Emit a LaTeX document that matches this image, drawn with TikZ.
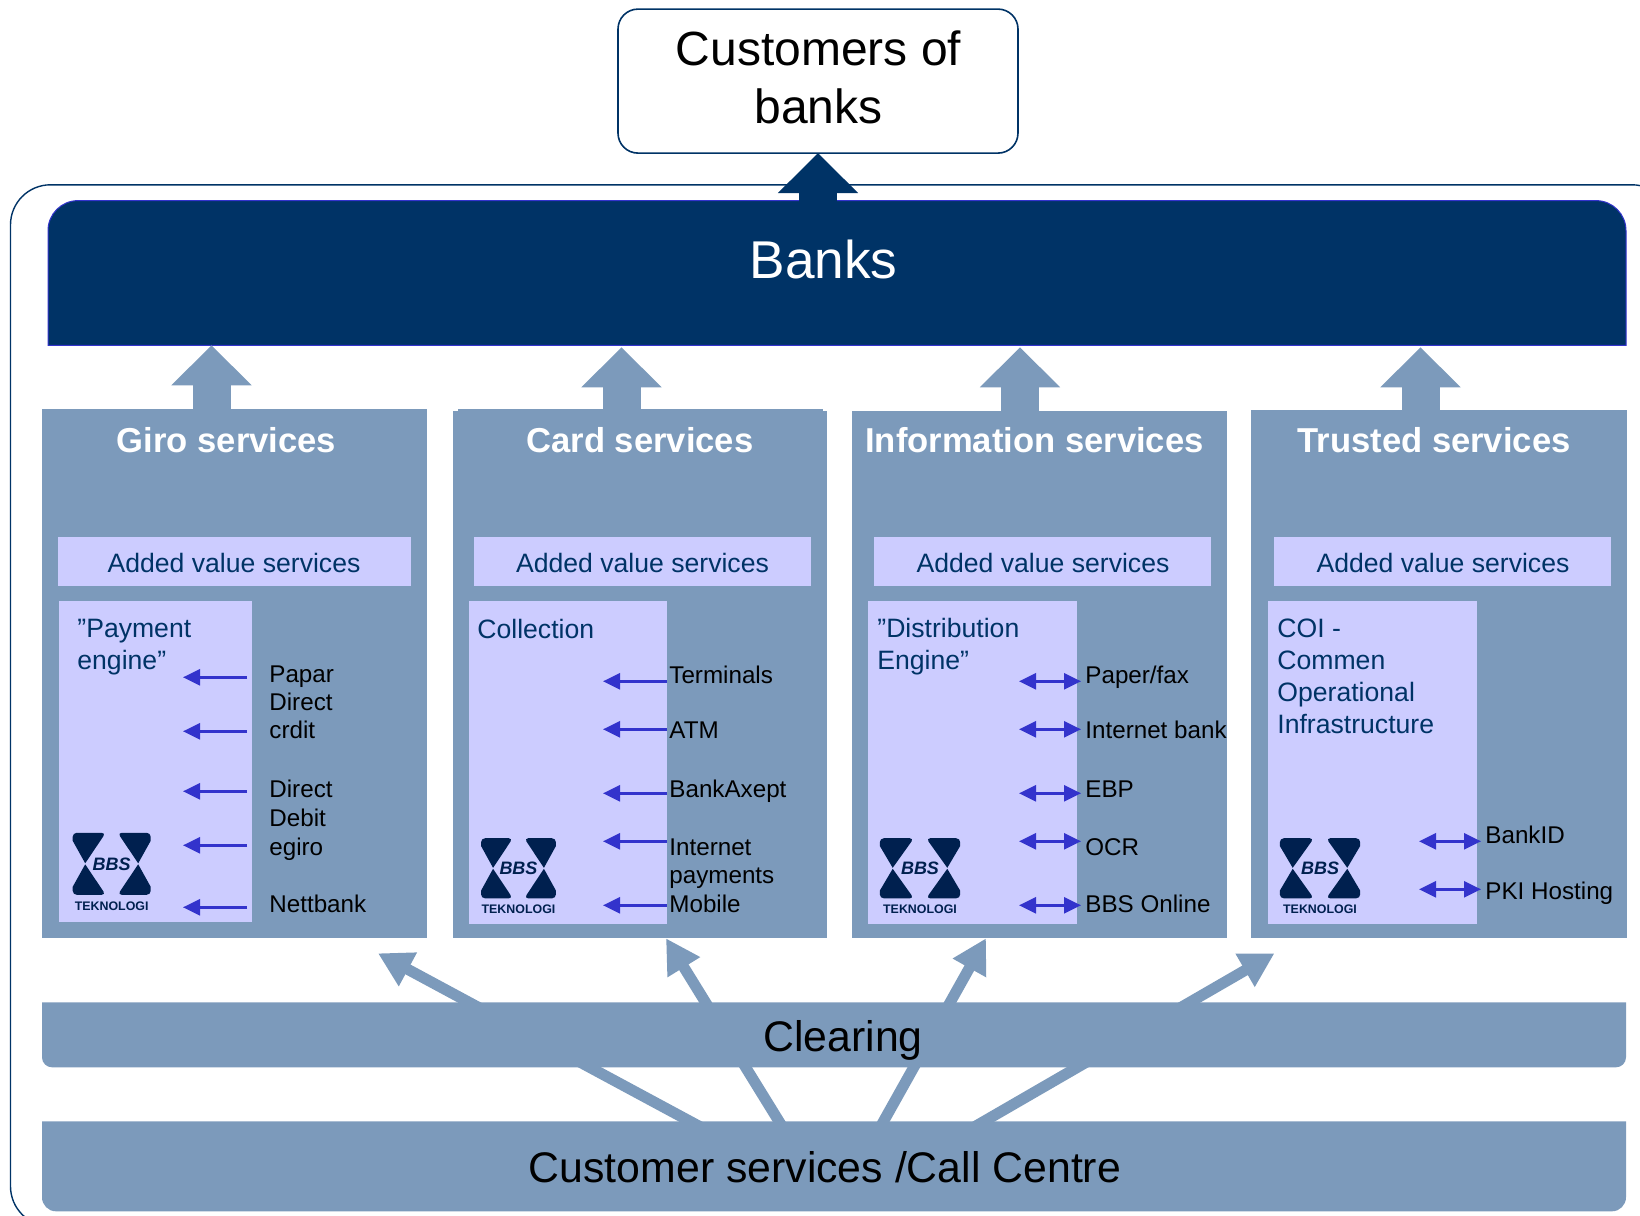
\documentclass[tikz,border=0pt]{standalone}
\usepackage{fontspec}
\setmainfont{Liberation Sans}
\usetikzlibrary{arrows.meta,calc}
\definecolor{navy}{HTML}{003366}
\definecolor{logonavy}{HTML}{00204F}
\definecolor{steel}{HTML}{7C9ABB}
\definecolor{lav}{HTML}{CCCCFF}
\definecolor{arrowblue}{HTML}{3333CC}
\pgfdeclarelayer{back}
\pgfsetlayers{back,main}
\newcommand{\fs}[2]{\fontsize{#1}{#2}\selectfont}
\newcommand{\rectnode}[6]{%
  \pgfmathsetmacro\rw{(#4-#2)*0.5}\pgfmathsetmacro\rh{(#5-#3)*0.5}%
  \node[#6,anchor=north west,inner sep=0pt,outer sep=0pt,minimum width=\rw pt,minimum height=\rh pt] (#1) at (#2,#3) {};}
\tikzset{
  panelbox/.style={fill=steel},
  lavbox/.style={fill=lav},
  plainbox/.style={},
  paneltitle/.style={anchor=base,inner sep=0pt,text=white,font=\fs{17.3}{20}\bfseries},
  addedlabel/.style={anchor=base,inner sep=0pt,text=navy,font=\fs{13.3}{16}},
  innertitle/.style={anchor=base west,inner sep=0pt,text=navy,align=left,font=\fs{13.3}{16}},
  itemlabel/.style={anchor=base west,inner sep=0pt,text=black,align=left,font=\fs{12.1}{14}},
  inarrow/.style={draw=arrowblue,line width=1.2pt,-{Triangle[length=8.5pt,width=8pt]}},
  bothways/.style={draw=arrowblue,line width=1.2pt,{Triangle[length=8.5pt,width=8pt]}-{Triangle[length=8.5pt,width=8pt]}},
  blockarrow/.style={draw=steel,line width=19pt,-{Triangle[length=20pt,width=39pt]}},
  topblock/.style={draw=navy,line width=19pt,-{Triangle[length=20pt,width=39pt]}},
  diagarrow/.style={draw=steel,line width=5.5pt,-{Triangle[length=17pt,width=18pt]}},
  bbslogo/.pic={
    \fill[logonavy] (-26.5,-0.5) -- (-39,-23) [rounded corners=2pt] -- (-39,-31) -- (-6,-31) [sharp corners] -- cycle;
    \fill[logonavy] (26.5,-0.5) -- (39,-23) [rounded corners=2pt] -- (39,-31) -- (6,-31) [sharp corners] -- cycle;
    \fill[logonavy] (-26.5,0.5) -- (-39,23) [rounded corners=2pt] -- (-39,31) -- (-6,31) [sharp corners] -- cycle;
    \fill[logonavy] (26.5,0.5) -- (39,23) [rounded corners=2pt] -- (39,31) -- (6,31) [sharp corners] -- cycle;
    \node[inner sep=0pt,text=logonavy,font=\fs{9}{10}\bfseries\itshape] (-bbs) at (0,0) {BBS};
    \node[inner sep=0pt,text=logonavy,font=\fs{6.2}{7}\bfseries] (-tek) at (0,42) {TEKNOLOGI};
  }
}
\begin{document}
\begin{tikzpicture}[x=0.5pt,y=-0.5pt]
\clip (0,0) rectangle (1640,1216);
\begin{scope}[yshift=-0.15pt]
% outer frame
\begin{pgfonlayer}{back}
  \draw[navy,line width=0.7pt,rounded corners=20pt] (10.5,184.5) rectangle (1672,1226);
\end{pgfonlayer}
% customers
\node[draw=navy,line width=0.8pt,rounded corners=10pt,fill=white,anchor=north west,inner sep=0pt,outer sep=0pt,minimum width=200pt,minimum height=72pt] (cust) at (618,8.8) {};
\node[anchor=base,inner sep=0pt,align=center,font=\fs{24}{29}] (custlabel) at (818.5,122.8) {Customers of\\banks};
% banks
\rectnode{banks}{48}{200.3}{1626}{345}{plainbox}
\begin{pgfonlayer}{back}
  \filldraw[fill=navy,draw=arrowblue,line width=0.5pt] (banks.south west) [rounded corners=15pt] -- (banks.north west) -- (banks.north east) [sharp corners] -- (banks.south east) -- cycle;
\end{pgfonlayer}
\node[anchor=base,inner sep=0pt,text=white,font=\fs{26.6}{30}] (bankslabel) at (823.5,278) {Banks};
% panels
\rectnode{p1}{42}{409}{427}{938}{panelbox}
\rectnode{p2}{453}{411}{827}{938}{panelbox}
\rectnode{p2top}{458}{409}{823}{412}{panelbox}
\rectnode{p3}{852}{411}{1227}{938}{panelbox}
\rectnode{p4}{1251}{410}{1627}{938}{panelbox}
\node[paneltitle] (t1) at (226.5,452.5) {Giro services};
\node[paneltitle] (t2) at (640,452.5) {Card services};
\node[paneltitle] (t3) at (1034.5,452.5) {Information services};
\node[paneltitle] (t4) at (1434,452.5) {Trusted services};
% added value
\rectnode{av1}{58}{537}{411}{586}{lavbox}
\rectnode{av2}{474}{537}{811}{586}{lavbox}
\rectnode{av3}{874}{537}{1211}{586}{lavbox}
\rectnode{av4}{1274}{537}{1611}{586}{lavbox}
\node[addedlabel] (avl1) at (234,572) {Added value services};
\node[addedlabel] (avl2) at (642.5,572) {Added value services};
\node[addedlabel] (avl3) at (1043,572) {Added value services};
\node[addedlabel] (avl4) at (1443,572) {Added value services};
% inner boxes
\rectnode{in1}{59}{601}{252}{922}{lavbox}
\rectnode{in2}{469}{601}{667}{924}{lavbox}
\rectnode{in3}{868}{601}{1077}{924}{lavbox}
\rectnode{in4}{1268}{601}{1477}{924}{lavbox}
\node[innertitle] (it1) at (77,669.5) {”Payment\\engine”};
\node[innertitle] (it2) at (477,638) {Collection};
\node[innertitle] (it3) at (877,669.5) {”Distribution\\Engine”};
\node[innertitle] (it4) at (1277,733) {COI -\\Commen\\Operational\\Infrastructure};
% logos
\pic[xscale=1] (logoa) at (111.7,863.5) {bbslogo};
\pic[xscale=0.96,yscale=0.97] (logob) at (518.5,868) {bbslogo};
\pic[xscale=1.03,yscale=0.97] (logoc) at (920,868) {bbslogo};
\pic[xscale=1.03,yscale=0.97] (logod) at (1320,868) {bbslogo};
% item labels panel 1
\node[itemlabel] (a1) at (269,738.5) {Papar\\Direct\\crdit};
\node[itemlabel,font=\fs{12.1}{14.4}] (a2) at (269,855) {Direct\\Debit\\egiro};
\node[itemlabel] (a3) at (269,912.5) {Nettbank};
% panel 2
\node[itemlabel] (b1) at (669,683) {Terminals};
\node[itemlabel] (b2) at (669,738.5) {ATM};
\node[itemlabel] (b3) at (669,797) {BankAxept};
\node[itemlabel] (b4) at (669,883.5) {Internet\\payments};
\node[itemlabel] (b5) at (669,912.5) {Mobile};
% panel 3
\node[itemlabel] (c1) at (1085,683) {Paper/fax};
\node[itemlabel] (c2) at (1085,738.5) {Internet bank};
\node[itemlabel] (c3) at (1085,797) {EBP};
\node[itemlabel] (c4) at (1085,855) {OCR};
\node[itemlabel] (c5) at (1085,912.5) {BBS Online};
% panel 4
\node[itemlabel] (d1) at (1485,843) {BankID};
\node[itemlabel] (d2) at (1485,899.5) {PKI Hosting};
% small arrows: panel 1
\foreach \n/\y in {1/677,2/731,3/791,4/845,5/907}{
  \coordinate (as\n) at (247,\y); \coordinate (ae\n) at (183,\y);
  \draw[inarrow] (as\n) -- (ae\n);
}
\foreach \n/\y in {1/681,2/729,3/793,4/841,5/905}{
  \coordinate (bs\n) at (667,\y); \coordinate (be\n) at (603,\y);
  \draw[inarrow] (bs\n) -- (be\n);
  \coordinate (cs\n) at (1019,\y); \coordinate (ce\n) at (1081,\y);
  \draw[bothways] (cs\n) -- (ce\n);
}
\foreach \n/\y in {1/841,2/889}{
  \coordinate (ds\n) at (1419,\y); \coordinate (de\n) at (1481,\y);
  \draw[bothways] (ds\n) -- (de\n);
}
% block arrows
\coordinate (up1) at (211.5,345);
\coordinate (up2) at (621.5,347);
\coordinate (up3) at (1020,347);
\coordinate (up4) at (1420.5,347);
\draw[blockarrow] (p1.north -| up1) -- (up1);
\draw[blockarrow] (p2top.north -| up2) -- (up2);
\draw[blockarrow] (p3.north -| up3) -- (up3);
\draw[blockarrow] (p4.north -| up4) -- (up4);
\draw[topblock] (banks.north -| cust.south) ++(0,2) -- (cust.south);
% clearing and call centre
\rectnode{clear}{42}{1002}{1626}{1067}{plainbox}
\rectnode{cc}{42}{1121}{1626}{1211}{plainbox}
\coordinate (u1) at (378,953);
\coordinate (u2) at (666,938);
\coordinate (u3) at (986,938);
\coordinate (u4) at (1274.5,953);
\coordinate (s1) at (706.7,1130);
\coordinate (s2) at (784.5,1130);
\coordinate (s3) at (878.5,1130);
\coordinate (s4) at (968.5,1130);
\begin{pgfonlayer}{back}
  \draw[diagarrow] (s1) -- (u1);
  \draw[diagarrow] (s2) -- (u2);
  \draw[diagarrow] (s3) -- (u3);
  \draw[diagarrow] (s4) -- (u4);
\end{pgfonlayer}
\fill[steel] (clear.north west) [rounded corners=5pt] -- (clear.south west) -- (clear.south east) [sharp corners] -- (clear.north east) -- cycle;
\fill[steel] (cc.north west) [rounded corners=7pt] -- (cc.south west) -- (cc.south east) [sharp corners] -- (cc.north east) -- cycle;
\node[anchor=base,inner sep=0pt,font=\fs{21.4}{24}] (clearlabel) at (843,1051) {Clearing};
\node[anchor=base,inner sep=0pt,font=\fs{21.4}{24}] (cclabel) at (825,1182) {Customer services /Call Centre};
\end{scope}
\end{tikzpicture}
\end{document}
